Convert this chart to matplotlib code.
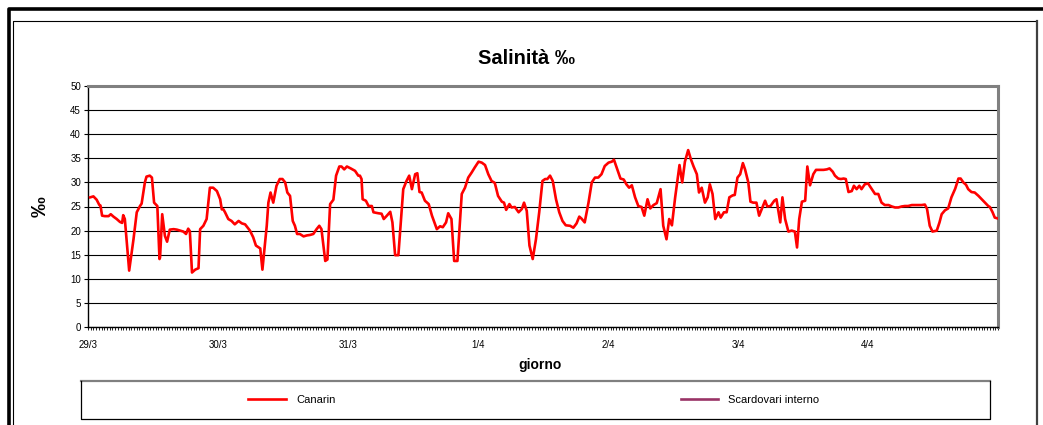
import matplotlib
matplotlib.use("Agg")
import matplotlib.pyplot as plt
from matplotlib.lines import Line2D
import numpy as np

plt.rcParams['font.family'] = ['Liberation Sans', 'DejaVu Sans']

# ---- data (hours since 29/3 00:00, salinity ‰) ----
canarin_ore = [
    0.4, 1.0, 1.6, 2.1, 2.3, 2.6, 3.1, 3.8, 4.2, 4.7, 5.3, 5.9, 6.3, 6.5, 6.8, 7.6, 8.4, 9.0, 9.6, 9.9,
    10.5, 10.8, 11.4, 11.8, 12.2, 12.8, 13.2, 13.3, 13.7, 14.2, 14.6, 15.1, 15.8, 16.4, 17.0, 17.6, 18.1, 18.5, 18.8, 19.2,
    19.8, 20.4, 20.7, 21.3, 21.9, 22.5, 23.1, 23.8, 24.4, 24.7, 25.0, 25.3, 25.9, 26.5, 27.1, 27.8, 28.4, 29.0, 29.9, 30.5,
    31.0, 31.8, 32.2, 33.0, 33.3, 33.7, 34.2, 34.8, 35.4, 35.9, 36.4, 36.8, 37.3, 37.8, 38.2, 38.6, 39.1, 39.8, 40.4, 41.0,
    41.6, 42.2, 42.7, 43.1, 43.8, 44.2, 44.7, 45.3, 45.8, 46.4, 46.8, 47.3, 47.8, 48.5, 49.3, 49.9,
    50.2, 50.5, 50.7, 51.3, 51.8, 52.4, 52.7, 53.6, 54.2, 54.6, 55.1, 55.8, 56.2, 56.7, 57.3, 57.7, 58.2, 58.8, 59.3, 59.8,
    60.4, 60.8, 61.2, 61.6, 62.2, 62.9, 63.5, 64.4, 65.0, 65.5, 66.1, 66.5, 67.1, 67.6, 68.2, 69.0, 69.6, 70.2, 70.8, 71.4,
    72.1, 72.7, 73.3, 73.9, 74.5, 75.1, 75.7, 76.4, 76.8, 77.2, 77.8, 78.2, 78.8, 79.5, 80.1, 80.5, 81.0, 81.5, 82.1, 82.7,
    83.3, 83.9, 84.4, 84.8, 85.3, 85.8, 86.4, 87.0, 87.6, 88.2, 89.0, 89.6, 90.2, 90.7, 91.1, 91.7, 92.4, 93.0, 93.6, 94.2,
    94.8, 95.4, 96.1, 96.7, 97.1, 97.6, 98.3, 98.9, 99.4, 99.9, 100.4, 101.0, 101.6, 102.2, 102.7, 103.3, 103.8, 104.4, 105.0, 105.7,
    106.2, 106.8, 107.3, 107.8, 108.4, 109.2, 109.7, 110.2, 110.8, 111.3, 111.8, 112.4, 112.8, 113.3, 113.9, 114.4, 114.8, 115.3, 115.8, 116.4,
    116.8, 117.4, 117.9, 118.4, 119.0, 119.4, 119.9, 120.4, 120.9, 121.3, 121.9, 122.3, 122.8, 123.4, 123.9, 124.6, 125.0, 125.4, 126.0, 126.7,
    127.1, 127.8, 128.2, 128.7, 129.3, 129.9, 130.5, 130.9, 131.3, 131.8, 132.4, 132.8, 133.3, 133.9, 134.4, 135.0, 135.8, 136.4, 136.9, 137.5,
    137.9, 138.5, 139.0, 139.5, 139.9, 140.4, 141.0, 141.4, 141.9, 142.4, 142.8, 143.4, 144.0, 144.7, 145.3, 145.9, 146.5, 147.1, 147.8, 148.4,
    149.0, 149.6, 150.2, 150.8, 151.4, 152.1, 152.7, 153.3, 153.9, 154.5, 154.9, 155.4, 155.9, 156.7, 157.2, 157.6, 158.2, 158.8, 159.4, 160.1,
    160.7, 161.1, 161.6, 162.1, 162.5, 163.1, 163.7, 164.4, 165.0, 165.6, 166.2, 166.5, 167.0, 167.4, 168.0,
]
canarin_sal = [
    26.9, 27.1, 26.4, 25.3, 25.2, 23.1, 23.0, 23.0, 23.4, 22.9, 22.4, 21.8, 21.6, 23.2, 22.4, 11.7, 18.2, 23.8, 25.1, 25.6,
    30.0, 31.2, 31.4, 31.0, 25.8, 25.1, 14.1, 14.4, 23.4, 18.9, 17.7, 20.2, 20.3, 20.2, 20.0, 19.8, 19.3, 20.4, 19.9, 11.3,
    11.9, 12.2, 20.3, 21.0, 22.4, 28.9, 28.9, 28.2, 26.5, 24.4, 24.4, 23.8, 22.4, 22.0, 21.3, 22.0, 21.5, 21.3, 20.0, 18.6,
    16.9, 16.3, 11.9, 21.0, 25.8, 27.9, 25.8, 29.3, 30.7, 30.7, 30.0, 27.9, 27.2, 22.0, 21.0, 19.3, 19.3, 18.8, 19.0, 19.1,
    19.3, 20.3, 21.0, 20.3, 13.7, 14.0, 25.5, 26.4, 31.4, 33.3, 33.3, 32.7, 33.3, 32.9, 32.4, 31.4,
    31.4, 30.7, 26.5, 26.2, 25.1, 25.1, 23.8, 23.6, 23.5, 22.4, 23.0, 23.9, 21.7, 14.9, 14.9, 21.0, 28.6, 30.3, 31.4, 28.6,
    31.7, 31.9, 28.0, 27.9, 26.2, 25.5, 23.1, 20.3, 20.9, 20.7, 21.7, 23.6, 22.4, 13.7, 13.7, 27.6, 28.9, 31.0, 32.0, 33.1,
    34.3, 34.1, 33.6, 31.7, 30.3, 29.9, 27.2, 26.0, 25.8, 24.3, 25.5, 24.8, 24.9, 23.8, 24.5, 25.8, 24.1, 16.9, 14.1, 18.2,
    23.8, 30.3, 30.7, 30.7, 31.4, 30.3, 26.5, 23.8, 22.0, 21.1, 21.0, 20.6, 21.5, 22.9, 22.5, 21.7, 25.8, 30.0, 31.0, 31.0,
    31.7, 33.4, 34.1, 34.3, 34.7, 33.1, 30.8, 30.6, 29.6, 28.9, 29.4, 26.9, 25.1, 24.9, 23.1, 26.5, 24.6, 25.3, 25.7, 28.6,
    21.0, 18.2, 22.4, 21.1, 26.9, 33.6, 30.0, 34.3, 36.7, 34.8, 33.3, 31.7, 27.9, 28.9, 25.8, 26.9, 29.6, 27.6, 22.4, 23.8,
    22.7, 23.8, 23.8, 26.9, 27.3, 27.4, 31.0, 31.7, 34.0, 32.7, 30.0, 26.0, 25.8, 25.8, 23.1, 25.1, 26.2, 25.0, 25.1, 26.2,
    26.5, 21.7, 26.9, 22.4, 19.8, 20.0, 19.8, 16.5, 22.4, 26.0, 26.2, 33.3, 29.4, 31.7, 32.6, 32.6, 32.6, 32.7, 32.9, 32.2,
    31.4, 30.8, 30.7, 30.8, 30.7, 28.0, 28.2, 29.3, 28.6, 29.3, 28.6, 29.6, 29.8, 28.6, 27.6, 27.6, 25.8, 25.3, 25.3, 25.0,
    24.8, 24.8, 25.0, 25.1, 25.1, 25.3, 25.3, 25.3, 25.3, 25.4, 24.5, 21.0, 19.8, 20.0, 21.7, 23.4, 24.2, 24.6, 26.9, 28.7,
    30.8, 30.8, 30.0, 29.5, 28.6, 28.0, 27.9, 27.2, 26.5, 25.8, 25.1, 24.9, 23.8, 22.7, 22.5,
]
scardovari_ore = []
scardovari_sal = []

giorni = ['29/3', '30/3', '31/3', '1/4', '2/4', '3/4', '4/4']
yticks = [0, 5, 10, 15, 20, 25, 30, 35, 40, 45, 50]

W, H = 1043, 425
fig = plt.figure(figsize=(W / 100, H / 100), dpi=100)

def fx(px):
    return px / W

def fy(py):
    return 1 - py / H

def fline(xs, ys, **kw):
    fig.add_artist(Line2D([fx(x) for x in xs], [fy(y) for y in ys],
                          transform=fig.transFigure, **kw))

# outer frames
fline([8.5, 8.5, W + 5], [H + 5, 8.5, 8.5], color='black', lw=2.6, solid_capstyle='projecting')
fline([12.5, 12.5, 1036], [H + 5, 20.5, 20.5], color='black', lw=0.8)
fline([1037, 1037], [20.5, H + 5], color='#404040', lw=1.6)

# plot area
x0, x1, ytop, ybot = 88, 998, 86, 327
ax = fig.add_axes([fx(x0), fy(ybot), fx(x1 - x0), (ybot - ytop) / H])
ax.plot(canarin_ore, canarin_sal, color='#ff0000', lw=1.9, label='Canarin', zorder=3)
ax.plot(scardovari_ore, scardovari_sal, color='#993366', lw=1.9, label='Scardovari interno', zorder=3)

ax.set_xlim(0, 168)
ax.set_ylim(0, 50)
ax.set_yticks(yticks)
ax.set_yticklabels([str(v) for v in yticks], fontsize=7)
ax.set_xticks([24 * i for i in range(len(giorni))])
ax.set_xticklabels(giorni, fontsize=7)
ax.set_xticks(np.arange(0, 168.01, 0.5), minor=True)
ax.tick_params(axis='x', which='both', direction='out', length=2.5, width=0.6, pad=7, colors='black')
ax.tick_params(axis='y', which='major', direction='out', length=3, width=0.8, pad=2)
ax.grid(axis='y', color='black', lw=0.8)
ax.set_axisbelow(True)
for s in ['top', 'right']:
    ax.spines[s].set_color('#808080')
    ax.spines[s].set_linewidth(2.2)
for s in ['left', 'bottom']:
    ax.spines[s].set_color('black')
    ax.spines[s].set_linewidth(1.0)

fig.text(fx(527), fy(58), 'Salinità ‰', ha='center', va='center', fontsize=14.5, fontweight='bold')
fig.text(fx(540), fy(365), 'giorno', ha='center', va='center', fontsize=10, fontweight='bold')
fig.text(fx(40), fy(207), '‰', ha='center', va='center', fontsize=15, fontweight='bold', rotation=90)

# legend box
lx0, lx1, ly0, ly1 = 80.5, 990, 381, 419
fline([lx0, lx1], [ly0, ly0], color='#808080', lw=1.6)
fline([lx1, lx1, lx0, lx0], [ly0, ly1, ly1, ly0], color='black', lw=0.9)

h, l = ax.get_legend_handles_labels()
for hh, ll, cx in zip(h, l, [292, 750]):
    fig.legend([hh], [ll], loc='center', bbox_to_anchor=(fx(cx), fy(400)), frameon=False,
               fontsize=8, handlelength=3.4, handletextpad=0.9, borderpad=0, borderaxespad=0)

fig.savefig('out.png', dpi=100)
